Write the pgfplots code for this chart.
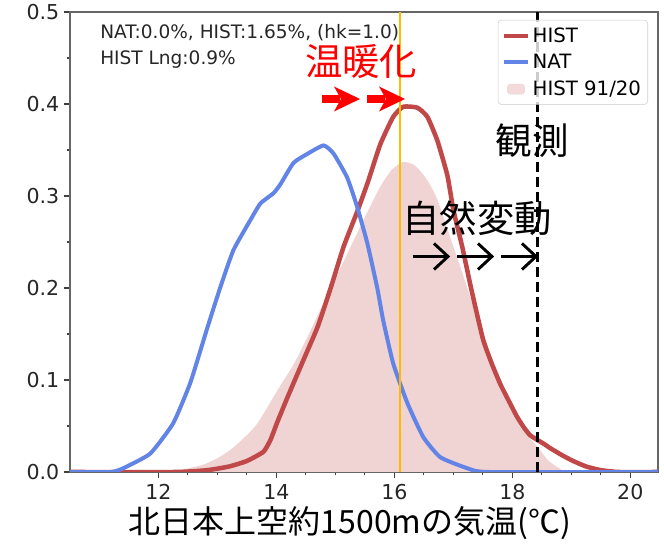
\documentclass[border=0pt]{standalone}
\usepackage{pgfplots}
\pgfplotsset{compat=1.18}
\usepackage{fontspec}
\setmainfont{DejaVu Sans}
\newfontfamily\cjk{Noto Sans CJK JP}
\definecolor{histc}{RGB}{192,72,72}
\definecolor{natc}{RGB}{98,132,230}
\definecolor{pinkc}{RGB}{240,211,211}
\definecolor{orangec}{RGB}{255,186,0}
\begin{document}
\begin{tikzpicture}
\begin{axis}[
  at={(0,0)}, anchor=south west,
  scale only axis, width=441pt, height=345pt,
  xmin=10.5, xmax=20.47, ymin=0, ymax=0.5,
  xtick={12,14,16,18,20}, minor x tick num=3,
  ytick={0,0.1,0.2,0.3,0.4,0.5}, minor y tick num=1,
  yticklabel style={/pgf/number format/.cd, fixed, fixed zerofill, precision=1},
  /pgf/number format/assume math mode=true,
  tick align=outside, xtick pos=bottom, ytick pos=left,
  major tick length=4.5pt, minor tick length=2.6pt,
  tick style={black!75, line width=0.8pt},
  axis line style={black!60, line width=0.8pt},
  tick label style={font=\fontsize{15.4}{18}\selectfont, text=black!85},
  xticklabel style={yshift=-1.5pt},
  legend style={at={(0.983,0.983)}, anchor=north east, draw=black!20, rounded corners=2.5pt,
    fill=white, fill opacity=0.8, text opacity=1, font=\fontsize{14.8}{17}\selectfont,
    inner xsep=3pt, inner ysep=3.5pt, row sep=3.5pt},
  legend cell align=left,
  legend image code/.code={\draw[#1, line width=3pt] (0pt,0pt) -- (18pt,0pt);},
]
\addplot[fill=pinkc, draw=none, forget plot, smooth, tension=0.4] coordinates {
(10.5,0) (12.0,0) (12.25,0.001) (12.5,0.004) (12.76,0.008) (13.0,0.015) (13.22,0.024)
(13.45,0.037) (13.68,0.053) (14.02,0.089) (14.3,0.118) (14.55,0.15) (14.92,0.2)
(15.2,0.237) (15.47,0.273) (15.76,0.31) (15.95,0.328) (16.15,0.337) (16.35,0.333)
(16.55,0.318) (16.73,0.296) (17.0,0.245) (17.3,0.188) (17.5,0.143) (17.8,0.09)
(18.08,0.055) (18.3,0.036) (18.42,0.028) (18.6,0.013) (18.8,0.004) (19.0,0) (20.47,0)
} \closedcycle;
\addplot[histc, line width=3.4pt, line join=round, smooth, tension=0.3] coordinates {
(10.5,0) (12.3,0) (12.83,0.002) (13.2,0.006) (13.5,0.012) (13.78,0.022) (13.9,0.035)
(14.02,0.055) (14.2,0.083) (14.46,0.122) (14.7,0.158) (14.92,0.2) (15.14,0.245)
(15.37,0.283) (15.55,0.315) (15.76,0.356) (15.98,0.386) (16.15,0.397) (16.39,0.396)
(16.56,0.386) (16.73,0.36) (16.9,0.322) (17.0,0.285) (17.15,0.245) (17.3,0.2)
(17.5,0.145) (17.65,0.118) (17.8,0.095) (17.95,0.076) (18.08,0.06) (18.2,0.048)
(18.3,0.04) (18.42,0.035) (18.55,0.03) (18.64,0.026) (18.85,0.018) (19.03,0.012)
(19.25,0.006) (19.5,0.002) (19.8,0) (20.47,0)
};
\addlegendentry{HIST}
\addplot[natc, line width=3pt, line join=round, smooth, tension=0.3] coordinates {
(10.5,0) (11.19,0) (11.4,0.004) (11.86,0.02) (12.25,0.053) (12.54,0.097) (12.83,0.157)
(13.05,0.201) (13.27,0.241) (13.56,0.274) (13.73,0.292) (13.95,0.303) (14.07,0.313)
(14.29,0.336) (14.53,0.346) (14.8,0.355) (14.97,0.346) (15.2,0.32) (15.37,0.288)
(15.54,0.249) (15.71,0.2) (15.81,0.165) (15.98,0.118) (16.22,0.075) (16.49,0.038)
(16.78,0.016) (17.24,0.004) (17.6,0) (20.47,0)
};
\addlegendentry{NAT}
\addlegendimage{legend image code/.code={\fill[pinkc] (2.5pt,-4pt) rectangle (15.5pt,3.5pt);}}
\addlegendentry{HIST 91/20}
\addplot[orangec, line width=1.5pt, forget plot] coordinates {(16.1,0) (16.1,0.5)};
\addplot[black, line width=2.2pt, dash pattern=on 7.5pt off 3.75pt, forget plot] coordinates {(18.42,0) (18.42,0.5)};
\end{axis}
% annotations in image-pixel units
\begin{scope}[shift={(-52.5pt,354pt)}, x=0.75pt, y=-0.75pt]
\node[anchor=base west, inner sep=0pt, font=\fontsize{13.9}{16}\selectfont, text=black!85] at (100,38.3) {NAT:0.0\%, HIST:1.65\%, (hk=1.0)};
\node[anchor=base west, inner sep=0pt, font=\fontsize{13.9}{16}\selectfont, text=black!85] at (100,65) {HIST Lng:0.9\%};
\node[inner sep=0pt, text=red, font=\cjk\fontsize{28}{30}\selectfont] at (361,62) {温暖化};
\node[inner sep=0pt, font=\cjk\fontsize{27.4}{30}\selectfont] at (532,141) {観測};
\node[inner sep=0pt, font=\cjk\fontsize{28}{30}\selectfont] at (477,218) {自然変動};
\node[inner sep=0pt, font=\cjk\fontsize{24}{26}\selectfont] at (350,523) {北日本上空約1500mの気温(℃)};
\foreach \a in {322,367} {
  \fill[red] (\a,95) rectangle (\a+18,103);
  \fill[red] (\a+12,86.5) -- (\a+38,99) -- (\a+12,111.5) -- (\a+19,99) -- cycle;
}
\foreach \a in {413,457,501} {
  \draw[line width=2.2pt] (\a,256.5) -- (\a+35,256.5);
  \draw[line width=2.2pt, line join=miter] (\a+21,243.5) -- (\a+35,256.5) -- (\a+21,269.5);
}
\end{scope}
\pgfresetboundingbox
\path (-52.5pt,-54.75pt) rectangle (445.5pt,354pt);
\end{tikzpicture}
\end{document}
